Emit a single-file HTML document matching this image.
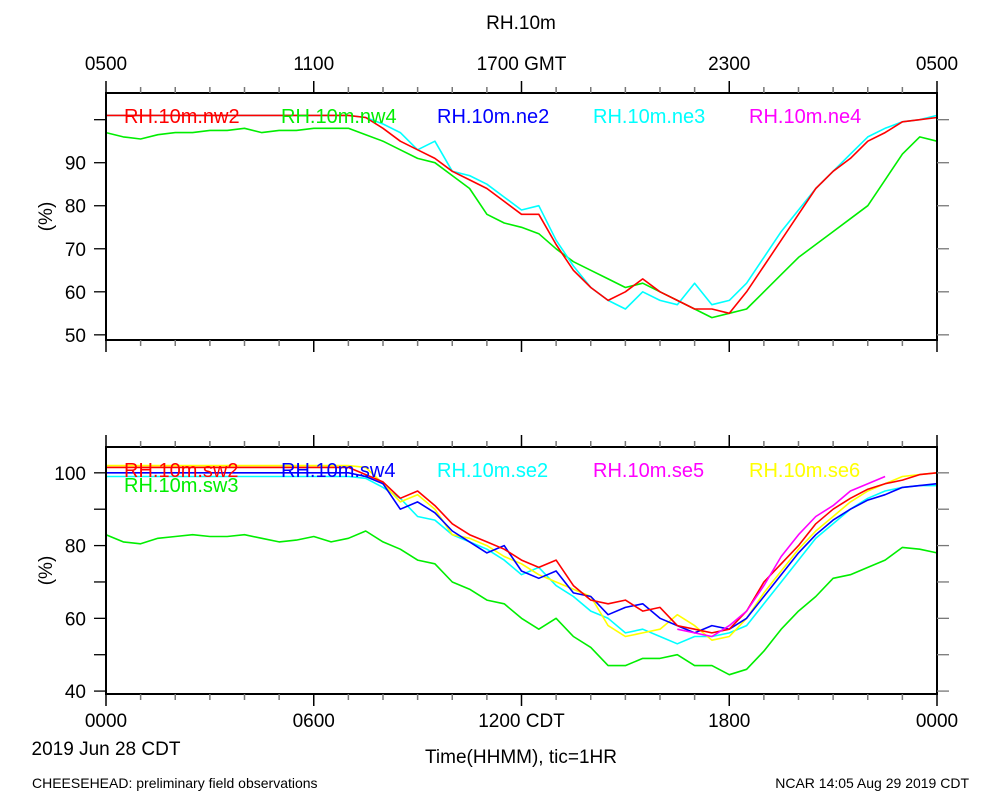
<!DOCTYPE html>
<html><head><meta charset="utf-8"><style>
body{margin:0;background:#fff;}
svg{display:block;font-family:"Liberation Sans",sans-serif;}
</style></head><body>
<svg id="chart" width="1000" height="800" viewBox="0 0 1000 800">
<text x="521" y="29" font-size="19" text-anchor="middle">RH.10m</text>
<text x="521" y="763" font-size="19" text-anchor="middle">Time(HHMM), tic=1HR</text>
<text x="106" y="755" font-size="19" text-anchor="middle">2019 Jun 28 CDT</text>
<text x="32" y="788" font-size="14">CHEESEHEAD: preliminary field observations</text>
<text x="969" y="788" font-size="14" text-anchor="end">NCAR 14:05 Aug 29 2019 CDT</text>
<g id="top"></g>
<g id="bot"></g>
</svg>
<script>
const times = [];
for (let i = 0; i <= 48; i++) times.push(i * 0.5);
const topTickLabels = ["0500","1100","1700 GMT","2300","0500"];
const botTickLabels = ["0000","0600","1200 CDT","1800","0000"];
const topYTicks = [50,60,70,80,90,100];
const topYLabels = ["50","60","70","80","90",""];
const botYTicks = [40,50,60,70,80,90,100];
const botYLabels = ["40","","60","","80","","100"];

const nw2 = [101,101,101,101,101,101,101,101,101,101,101,101,101,101,101,100.5,98,95,93,91,88,86,84,81,78,78,71,65,61,58,60,63,60,58,56,56,55,60,66,72,78,84,88,91,95,97,99.5,100,100.5];
const nw4 = [97,96,95.5,96.5,97,97,97.5,97.5,98,97,97.5,97.5,98,98,98,96.5,95,93,91,90,87,84,78,76,75,73.5,70,67,65,63,61,62,60,58,56,54,55,56,60,64,68,71,74,77,80,86,92,96,95];
const ne3 = [101,101,101,101,101,101,101,101,101,101,101,101,101,101,101,100.5,99,97,93,95,88,87,85,82,79,80,72,66,61,58,56,60,58,57,62,57,58,62,68,74,79,84,88,92,96,98,99.5,100,101];
const ne2 = [];
const ne4 = [];

const sw2 = [101.5,101.5,101.5,101.5,101.5,101.5,101.5,101.5,101.5,101.5,101.5,101.5,101.5,101.5,101.5,99.5,97.5,93,95,91,86,83,81,79,76,74,76,69,65,64,65,62,63,58,57,56,57,62,70,75,80,86,90,93,95.5,97,98,99.5,100];
const sw3 = [83,81,80.5,82,82.5,83,82.5,82.5,83,82,81,81.5,82.5,81,82,84,81,79,76,75,70,68,65,64,60,57,60,55,52,47,47,49,49,50,47,47,44.5,46,51,57,62,66,71,72,74,76,79.5,79,78];
const sw4 = [100,100,100,100,100,100,100,100,100,100,100,100,100,100,100,99,97,90,92,89,84,81,78,80,73,71,73,67,66,61,63,64,60,58,56,58,57,60,66,72,78,83,87,90,92.5,94,96,96.5,97];
const se2 = [99,99,99,99,99,99,99,99,99,99,99,99,99,99,99,98.5,96,93,88,87,83,81,79,76,72,74,69,66,62,60,56,57,55,53,55,55,56,58,64,70,76,82,86,90,93,95,96,96.5,96.5];
const se5 = [null,null,null,null,null,null,null,null,null,null,null,null,null,null,null,null,null,null,null,null,null,null,null,null,null,null,null,null,null,null,null,null,null,57,56,55,58,62,69,77,83,88,91,95,97,99,null,null,null];
const se6 = [102,102,102,102,102,102,102,102,102,102,102,102,102,102,102,101.5,97,92,94,90,83,82,80,77,75,72,70,68,66,58,55,56,57,61,58,54,55,60,67,73,79,84,88,92,95,97,99,99.5,100];

const NS = "http://www.w3.org/2000/svg";
const X0 = 106, X1 = 937;
function xs(t){ return X0 + (X1 - X0) * t / 24; }
function mk(tag, attrs, parent){ const e = document.createElementNS(NS, tag); for (const k in attrs) e.setAttribute(k, attrs[k]); parent.appendChild(e); return e; }

function panel(g, y0, y1, vLo, vHi, yTicks, yLabels, xLabels, xLabelsTop, xLabelY, series, legends, name){
  const ys = v => y1 - (v - vLo) / (vHi - vLo) * (y1 - y0);
  series.forEach(s => {
    let d = "", pen = false;
    s.data.forEach((v, i) => {
      if (v === null || v === undefined) { pen = false; return; }
      d += (pen ? "L" : "M") + xs(times[i]).toFixed(1) + "," + ys(v).toFixed(1);
      pen = true;
    });
    if (!d) return;
    const p = mk("path", {d: d, fill: "none", stroke: s.color, "stroke-width": 1.6, "stroke-linejoin": "round"}, g);
    
    
  });
  const f = mk("rect", {x: X0, y: y0, width: X1 - X0, height: y1 - y0, fill: "none", stroke: "#000", "stroke-width": 2}, g);
  
  
  for (let h = 0; h <= 24; h++) {
    const x = xs(h), L = h % 6 === 0 ? 12 : 6;
    const a = mk("line", {x1: x, x2: x, y1: y0, y2: y0 - L, stroke: h % 6 ? "#777" : "#000", "stroke-width": 1.5}, g);
    
    
    const b = mk("line", {x1: x, x2: x, y1: y1, y2: y1 + L, stroke: h % 6 ? "#777" : "#000", "stroke-width": 1.5}, g);
    
    
  }
  if (xLabels) xLabels.forEach((lab, i) => {
    const t = mk("text", {x: xs(i * 6), y: xLabelY, "font-size": 19, "text-anchor": "middle"}, g);
    t.textContent = lab;
    
    
  });
  yTicks.forEach((v, i) => {
    const y = ys(v);
    const a = mk("line", {x1: X0, x2: X0 - 12, y1: y, y2: y, stroke: "#000", "stroke-width": 1.3}, g);
    
    
    const b = mk("line", {x1: X1, x2: X1 + 12, y1: y, y2: y, stroke: "#777", "stroke-width": 1.3}, g);
    
    
    if (yLabels[i]) {
      const t = mk("text", {x: 86, y: y + 7, "font-size": 19, "text-anchor": "end"}, g);
      t.textContent = yLabels[i];
      
      
    }
  });
  const yc = (y0 + y1) / 2;
  const yt = mk("text", {x: 52, y: yc, "font-size": 19, "text-anchor": "middle", transform: "rotate(-90 52 " + yc + ")"}, g);
  yt.textContent = "(%)";
  
  
  legends.forEach(l => {
    const t = mk("text", {x: l.x, y: l.y, "font-size": 20, fill: l.color}, g);
    t.textContent = l.text;
    
    
  });
}

panel(document.getElementById("top"), 93, 340, 48.8, 106.2, topYTicks, topYLabels, topTickLabels, true, 70,
  [{name:"nw4",data:nw4,color:"#00ee00"},{name:"ne3",data:ne3,color:"#00ffff"},{name:"nw2",data:nw2,color:"#ff0000"},{name:"ne2",data:ne2,color:"#0000ff"},{name:"ne4",data:ne4,color:"#ff00ff"}],
  [{text:"RH.10m.nw2",x:124,y:123,color:"#ff0000"},{text:"RH.10m.nw4",x:281,y:123,color:"#00ee00"},{text:"RH.10m.ne2",x:437,y:123,color:"#0000ff"},{text:"RH.10m.ne3",x:593,y:123,color:"#00ffff"},{text:"RH.10m.ne4",x:749,y:123,color:"#ff00ff"}],
  "top-panel");
panel(document.getElementById("bot"), 447, 694, 39.2, 107.1, botYTicks, botYLabels, botTickLabels, false, 727,
  [{name:"sw3",data:sw3,color:"#00ee00"},{name:"se2",data:se2,color:"#00ffff"},{name:"se6",data:se6,color:"#ffff00"},{name:"sw4",data:sw4,color:"#0000ff"},{name:"sw2",data:sw2,color:"#ff0000"},{name:"se5",data:se5,color:"#ff00ff"}],
  [{text:"RH.10m.sw2",x:124,y:477,color:"#ff0000"},{text:"RH.10m.sw4",x:281,y:477,color:"#0000ff"},{text:"RH.10m.se2",x:437,y:477,color:"#00ffff"},{text:"RH.10m.se5",x:593,y:477,color:"#ff00ff"},{text:"RH.10m.se6",x:749,y:477,color:"#ffff00"},{text:"RH.10m.sw3",x:124,y:492,color:"#00ee00"}],
  "bottom-panel");
</script>
</body></html>
